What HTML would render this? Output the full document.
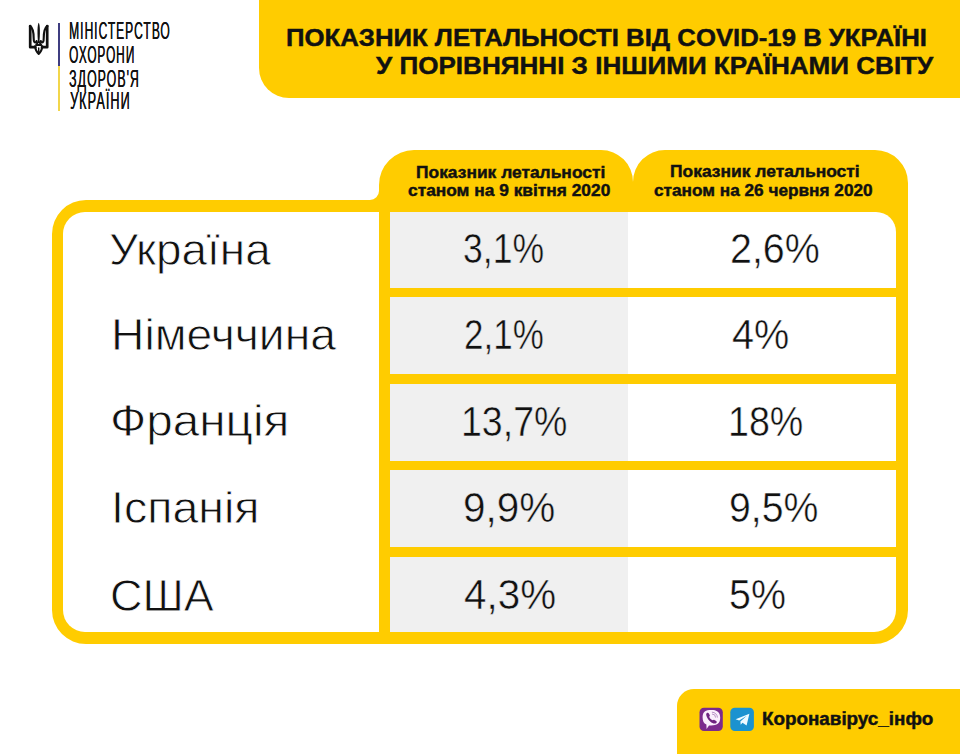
<!DOCTYPE html>
<html><head><meta charset="utf-8">
<style>
html,body{margin:0;padding:0;}
body{width:960px;height:754px;overflow:hidden;background:#fff;position:relative;font-family:"Liberation Sans",sans-serif;color:#111;}
.t{position:absolute;white-space:nowrap;line-height:1;transform-origin:0 0;}
svg{position:absolute;left:0;top:0;}
</style></head><body>
<svg width="960" height="754" viewBox="0 0 960 754">
  <!-- header -->
  <path d="M259 0 H960 V98 H289 A30 30 0 0 1 259 68 Z" fill="#FFCC00"/>
  <!-- frame -->
  <path d="M52 234 A34 34 0 0 1 86 200 H370 A9 9 0 0 0 379 191 V185 A35 35 0 0 1 414 150 H601 A32 32 0 0 1 633 182 A32 32 0 0 1 665 150 H875 A33 33 0 0 1 908 183 V610 A34 34 0 0 1 874 644 H86 A34 34 0 0 1 52 610 Z" fill="#FFCC00"/>
  <!-- left white panel -->
  <path d="M63 234 A22 22 0 0 1 85 212 H379 V632 H85 A22 22 0 0 1 63 610 Z" fill="#fff"/>
  <!-- gray cells -->
  <rect x="390" y="212" width="238" height="76" fill="#F0F0F0"/>
  <rect x="390" y="297" width="238" height="77" fill="#F0F0F0"/>
  <rect x="390" y="384" width="238" height="77" fill="#F0F0F0"/>
  <rect x="390" y="470" width="238" height="77" fill="#F0F0F0"/>
  <rect x="390" y="557" width="238" height="75" fill="#F0F0F0"/>
  <!-- white cells -->
  <path d="M628 212 H876 A20 20 0 0 1 896 232 V288 H628 Z" fill="#fff"/>
  <rect x="628" y="297" width="268" height="77" fill="#fff"/>
  <rect x="628" y="384" width="268" height="77" fill="#fff"/>
  <rect x="628" y="470" width="268" height="77" fill="#fff"/>
  <path d="M628 557 H896 V610 A22 22 0 0 1 874 632 H628 Z" fill="#fff"/>
  <!-- logo line -->
  <rect x="58" y="23" width="2" height="43" fill="#3f3d80"/>
  <rect x="58" y="66" width="2" height="45" fill="#f2d64b"/>
  <!-- trident -->
  <g fill="none" stroke="#111" stroke-width="2.1" stroke-linejoin="round" stroke-linecap="round">
    <path d="M30.2 26 V47.2 H35.4" stroke-width="2.7"/>
    <path d="M29.9 26 C32.8 27.8 33.7 32.5 33.7 38.5 C33.7 41 34.2 42.4 35.4 42.4 C36.4 42.4 36.8 41.6 36.6 41"/>
    <path d="M47.2 26 V47.2 H42" stroke-width="2.7"/>
    <path d="M47.5 26 C44.6 27.8 43.7 32.5 43.7 38.5 C43.7 41 43.2 42.4 42 42.4 C41 42.4 40.6 41.6 40.8 41"/>
    <path d="M36 45 L38.7 41.5 L41.4 45 Z" stroke-width="1.8"/>
    <path d="M35 46.2 C35.4 50 37 52.5 38.7 54 C40.4 52.5 42 50 42.4 46.2" stroke-width="2"/>
    <path d="M38.7 48 V51.5" stroke-width="1.4"/>
  </g>
  <path d="M38.7 22.8 C40.2 25 40.1 33 39.5 41.5 H37.9 C37.3 33 37.2 25 38.7 22.8 Z" fill="#111"/>
  <!-- footer -->
  <path d="M677 754 V706 A17 17 0 0 1 694 689 H960 V754 Z" fill="#FFCC00"/>
  <!-- viber -->
  <rect x="699.5" y="707.8" width="23.3" height="23.3" rx="4.5" fill="#7b2a8d"/>
  <path d="M702.6 717.3 C702.6 711.8 705.6 710 711.2 710 C716.8 710 720.2 711.8 720.2 717.8 C720.2 723.6 716.8 725.4 711.2 725.4 L709 725.4 L706.6 729 L706.4 724.6 C703.8 723.3 702.6 721.2 702.6 717.3 Z" fill="#fbeefc"/>
  <path d="M706.6 713.2 C707.3 712.5 708.3 712.6 708.7 713.3 L709.7 715.1 C710 715.7 709.8 716.3 709.2 716.7 C709.8 718.3 711.2 719.7 712.8 720.3 C713.2 719.8 713.8 719.6 714.4 719.9 L716.2 720.9 C716.9 721.3 717 722.2 716.3 722.9 C715 724.1 712.6 723.6 710.2 721.5 C707.6 719 705.2 714.6 706.6 713.2 Z" fill="#6e2380"/>
  <g fill="none" stroke="#a77bb5" stroke-width="0.8" stroke-linecap="round">
    <path d="M712.3 712.2 A5 5 0 0 1 717.4 717.2"/>
    <path d="M712.4 714 A3.2 3.2 0 0 1 715.6 717.2"/>
  </g>
  <!-- telegram -->
  <rect x="730.3" y="707.8" width="23.6" height="23.3" rx="4.5" fill="#1b92d0"/>
  <path d="M735.6 719.3 L749.4 713.8 L746.6 725.6 L742.5 722.8 L740.7 724.8 L740.4 721.4 L746.8 715.8 L739.2 720.6 Z" fill="#eefaff"/>
</svg>

<!-- title -->
<div id="title1" class="t" style="-webkit-text-stroke:0.45px #111;left:286.0px;top:26.1px;font-size:24px;font-weight:bold;transform:scaleX(1.0720)">ПОКАЗНИК ЛЕТАЛЬНОСТІ ВІД COVID-19 В УКРАЇНІ</div>
<div id="title2" class="t" style="-webkit-text-stroke:0.45px #111;left:376.0px;top:53.5px;font-size:24px;font-weight:bold;transform:scaleX(1.0861)">У ПОРІВНЯННІ З ІНШИМИ КРАЇНАМИ СВІТУ</div>

<!-- logo text -->
<div id="logo1" class="t" style="letter-spacing:2px;text-shadow:0.5px 0 0 #111;left:68.8px;top:19.0px;font-size:24px;transform:scaleX(0.5016)">МІНІСТЕРСТВО</div>
<div id="logo2" class="t" style="letter-spacing:2px;text-shadow:0.5px 0 0 #111;left:69.1px;top:42.5px;font-size:24px;transform:scaleX(0.4927)">ОХОРОНИ</div>
<div id="logo3" class="t" style="letter-spacing:2px;text-shadow:0.5px 0 0 #111;left:68.6px;top:66.6px;font-size:24px;transform:scaleX(0.5151)">ЗДОРОВ'Я</div>
<div id="logo4" class="t" style="letter-spacing:2px;text-shadow:0.5px 0 0 #111;left:69.6px;top:89.2px;font-size:24px;transform:scaleX(0.5277)">УКРАЇНИ</div>

<!-- column headers -->
<div id="h1a" class="t" style="-webkit-text-stroke:0.45px #111;left:416.3px;top:164.0px;font-size:16.5px;font-weight:bold;transform:scaleX(1.0547)">Показник летальності</div>
<div id="h1b" class="t" style="-webkit-text-stroke:0.45px #111;left:407.5px;top:182.1px;font-size:16.5px;font-weight:bold;transform:scaleX(1.0509)">станом на 9 квітня 2020</div>
<div id="h2a" class="t" style="-webkit-text-stroke:0.45px #111;left:669.7px;top:163.0px;font-size:16.5px;font-weight:bold;transform:scaleX(1.0568)">Показник летальності</div>
<div id="h2b" class="t" style="-webkit-text-stroke:0.45px #111;left:654.1px;top:182.0px;font-size:16.5px;font-weight:bold;transform:scaleX(1.0431)">станом на 26 червня 2020</div>

<!-- countries -->
<div id="c1" class="t" style="-webkit-text-stroke:0.8px #fff;left:109.4px;top:227.6px;font-size:44.2px;transform:scaleX(1.0375)">Україна</div>
<div id="c2" class="t" style="-webkit-text-stroke:0.8px #fff;left:111.4px;top:312.9px;font-size:44.2px;transform:scaleX(1.0464)">Німеччина</div>
<div id="c3" class="t" style="-webkit-text-stroke:0.8px #fff;left:109.8px;top:399.4px;font-size:44.2px;transform:scaleX(1.0787)">Франція</div>
<div id="c4" class="t" style="-webkit-text-stroke:0.8px #fff;left:111.0px;top:486.0px;font-size:44.2px;transform:scaleX(1.0531)">Іспанія</div>
<div id="c5" class="t" style="-webkit-text-stroke:0.8px #fff;left:110.2px;top:573.6px;font-size:44.2px;transform:scaleX(1.0182)">США</div>

<!-- col1 -->
<div id="n11" class="t" style="-webkit-text-stroke:0.5px #F0F0F0;left:462.9px;top:226.9px;font-size:43.2px;transform:scaleX(0.8229)">3,1%</div>
<div id="n12" class="t" style="-webkit-text-stroke:0.5px #F0F0F0;left:464.1px;top:313.0px;font-size:43.2px;transform:scaleX(0.8100)">2,1%</div>
<div id="n13" class="t" style="-webkit-text-stroke:0.5px #F0F0F0;left:461.4px;top:400.2px;font-size:43.2px;transform:scaleX(0.8683)">13,7%</div>
<div id="n14" class="t" style="-webkit-text-stroke:0.5px #F0F0F0;left:463.1px;top:486.2px;font-size:43.2px;transform:scaleX(0.9371)">9,9%</div>
<div id="n15" class="t" style="-webkit-text-stroke:0.5px #F0F0F0;left:464.1px;top:573.0px;font-size:43.2px;transform:scaleX(0.9349)">4,3%</div>

<!-- col2 -->
<div id="n21" class="t" style="-webkit-text-stroke:0.5px #fff;left:730.0px;top:226.9px;font-size:43.2px;transform:scaleX(0.9124)">2,6%</div>
<div id="n22" class="t" style="-webkit-text-stroke:0.5px #fff;left:731.9px;top:313.0px;font-size:43.2px;transform:scaleX(0.9166)">4%</div>
<div id="n23" class="t" style="-webkit-text-stroke:0.5px #fff;left:728.1px;top:400.2px;font-size:43.2px;transform:scaleX(0.8712)">18%</div>
<div id="n24" class="t" style="-webkit-text-stroke:0.5px #fff;left:729.2px;top:486.2px;font-size:43.2px;transform:scaleX(0.9084)">9,5%</div>
<div id="n25" class="t" style="-webkit-text-stroke:0.5px #fff;left:729.2px;top:573.4px;font-size:43.2px;transform:scaleX(0.9110)">5%</div>

<!-- footer text -->
<div id="foot" class="t" style="-webkit-text-stroke:0.45px #111;left:762.4px;top:710.5px;font-size:17.6px;font-weight:bold;transform:scaleX(1.0699)">Коронавірус_інфо</div>
</body></html>
